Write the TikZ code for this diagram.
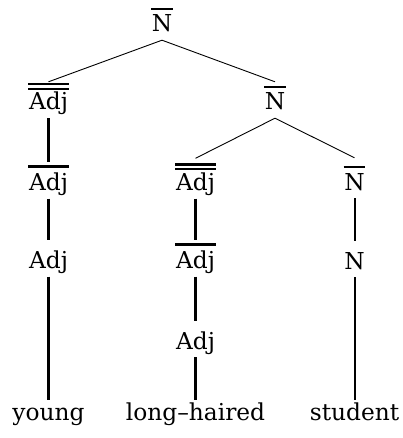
\documentclass[tikz,border=0pt]{standalone}
\usepackage{fontspec}
\setmainfont{DejaVu Serif}
% bar-level labels: one or two rules above the category
\newcommand\onebar[1]{\vbox{\hrule height 2.3pt\kern 5pt\hbox{\kern0.6pt#1\kern0.6pt}}}
\newcommand\twobar[1]{\vbox{\hrule height 2.3pt\kern 2.6pt\hrule height 2.3pt\kern 2.3pt\hbox{\kern0.6pt#1\kern0.6pt}}}
\begin{document}
\begin{tikzpicture}[x=1pt,y=-1pt,
  every node/.style={font=\fontsize{23.3}{28}\selectfont, inner sep=0pt,
    anchor=base, text height=28pt, text depth=8pt},
  leaf/.style={text height=20pt},
  tall/.style={text height=32pt},
  branch/.style={line width=0.9pt},
  colA/.style={line width=2.7pt},
  colB/.style={line width=2.2pt},
  colC/.style={line width=2pt}]
\useasboundingbox (0,0) rectangle (403,438);

% labels
\node (top)   at (162,32)    {\onebar{N}};
\node (adjA2) at (48.5,110)  {\twobar{Adj}};
\node (nbar1) at (275,110)   {\onebar{N}};
\node (adjA1) at (48.5,190.5) {\onebar{Adj}};
\node[tall] (adjB2) at (195.5,190.5) {\twobar{Adj}};
\node[tall] (nbar2) at (354.5,190)  {\onebar{N}};
\node (adjA0) at (48.5,268.5) {Adj};
\node (adjB1) at (195.5,268.5) {\onebar{Adj}};
\node (n0)    at (354.5,269) {N};
\node (adjB0) at (195.5,349) {Adj};
\node[leaf] (w1) at (48.5,420)  {young};
\node[leaf] (w2) at (195.5,420) {long–haired};
\node[leaf] (w3) at (354.5,420) {student};

% branches
\draw[branch] (top.south) -- (adjA2.north);
\draw[branch] (top.south) -- (nbar1.north);
\draw[branch] (nbar1.south) -- (adjB2.north);
\draw[branch] (nbar1.south) -- (nbar2.north);

% unary projections
\draw[colA] (adjA2.south) -- (adjA1.north);
\draw[colA] (adjA1.south) -- (adjA0.north);
\draw[colA] (adjA0.south) -- (w1.north);
\draw[colB] (adjB2.south) -- (adjB1.north);
\draw[colB] (adjB1.south) -- (adjB0.north);
\draw[colB] (adjB0.south) -- (w2.north);
\draw[colC] (nbar2.south) -- (n0.north);
\draw[colC] (n0.south) -- (w3.north);
\end{tikzpicture}
\end{document}
